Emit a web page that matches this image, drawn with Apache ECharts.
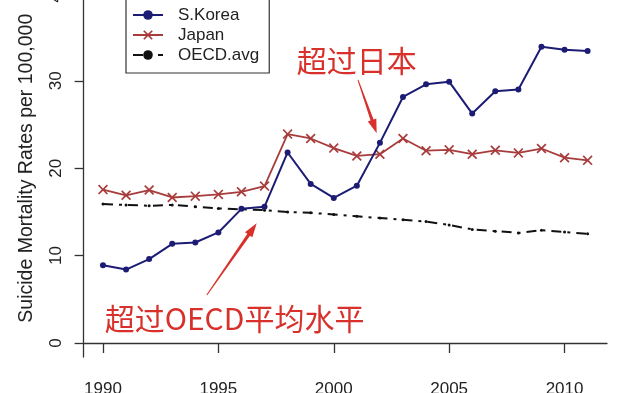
<!DOCTYPE html>
<html><head><meta charset="utf-8">
<script src="https://cdn.jsdelivr.net/npm/echarts@6/dist/echarts.min.js"></script>
<style>html,body{margin:0;padding:0;background:#fff}#c{width:640px;height:393px}</style>
</head><body><div id="c"></div>
<script>
const years = [1990,1991,1992,1993,1994,1995,1996,1997,1998,1999,2000,2001,2002,2003,2004,2005,2006,2007,2008,2009,2010,2011];
const korea = [8.9,8.4,9.6,11.35,11.5,12.65,15.35,15.6,21.8,18.2,16.6,18.0,22.9,28.15,29.6,29.9,26.25,28.8,29.0,33.9,33.55,33.4];
const japan = [17.55,16.9,17.5,16.65,16.8,17.0,17.3,17.95,23.9,23.4,22.3,21.4,21.6,23.4,22.0,22.1,21.6,22.05,21.75,22.25,21.2,20.9];
const oecd  = [15.9,15.8,15.7,15.8,15.6,15.4,15.3,15.2,15.0,14.9,14.7,14.5,14.3,14.1,13.9,13.5,13.0,12.8,12.6,12.9,12.7,12.5];
const seriesNames = ['S.Korea','Japan','OECD.avg'];
const xTicks = [1990,1995,2000,2005,2010];
const yTicks = [0,10,20,30,40];
const yAxisTitle = 'Suicide Mortality Rates per 100,000';
const annotTexts = ['超过日本','超过OECD平均水平'];
// annotation anchors in data units: [textYear, textValue, tailYear, tailValue, tipYear, tipValue]
const annotAnchors = [
  [2001.0, 32.3, 2001.05, 30.1, 2001.86, 24.0],
  [1995.7, 2.75, 1994.5, 5.5, 1996.66, 13.7]
];

const pair = (a) => years.map((y,i)=>[y,a[i]]);
const chart = echarts.init(document.getElementById('c'), null, {renderer:'canvas'});
const FONT = 'Liberation Sans, Arial, sans-serif';
const RED = '#d8312b';
const xPath = 'path://M0,1.2 L1.2,0 L5,3.8 L8.8,0 L10,1.2 L6.2,5 L10,8.8 L8.8,10 L5,6.2 L1.2,10 L0,8.8 L3.8,5 Z';

const option = {
  animation:false,
  backgroundColor:'#fff',
  grid:{left:83.6, right:33, top:-20.6, bottom:36, containLabel:false, outerBoundsMode:'none'},
  xAxis:{type:'value', min:1989.16, max:2011.84,
    splitLine:{show:false},
    axisLine:{lineStyle:{color:'#333', width:1.3}},
    axisTick:{customValues:xTicks, length:10, lineStyle:{color:'#333', width:1.3}},
    axisLabel:{customValues:xTicks, fontSize:17, fontFamily:FONT, color:'#222', margin:24, formatter:v=>String(v)}
  },
  yAxis:{type:'value', min:-1.6, max:41.6,
    splitLine:{show:false},
    axisLine:{show:true, lineStyle:{color:'#333', width:1.3}},
    axisTick:{show:true, customValues:yTicks, length:9, lineStyle:{color:'#333', width:1.3}},
    axisLabel:{customValues:yTicks, rotate:90, fontSize:17, fontFamily:FONT, color:'#222', margin:19, formatter:v=>String(v)},
    name:yAxisTitle, nameLocation:'middle', nameGap:47,
    nameTextStyle:{fontSize:19.5, fontFamily:FONT, color:'#222'}
  },
  legend:{orient:'vertical', left:126, top:-3.5, itemWidth:30, itemHeight:12, itemGap:3,
    padding:[10,10,9.5,6], borderColor:'#333', borderWidth:1.2, backgroundColor:'#fff',
    textStyle:{fontSize:17, fontFamily:FONT, color:'#222', padding:[0,0,0,10]},
    data:seriesNames},
  series:[
    {name:seriesNames[0], type:'line', data:pair(korea), symbol:'circle', symbolSize:6,
      lineStyle:{color:'#1c1c74', width:2}, itemStyle:{color:'#1c1c74'}, z:3},
    {name:seriesNames[1], type:'line', data:pair(japan), symbol:xPath, symbolSize:10,
      lineStyle:{color:'#a83c3c', width:1.8}, itemStyle:{color:'#a83c3c'}, z:2},
    {name:seriesNames[2], type:'line', data:pair(oecd), symbol:'circle', symbolSize:3,
      lineStyle:{color:'#111', width:2, type:[10,6,3,6]}, itemStyle:{color:'#111'}, z:1}
  ]
};
chart.setOption(option);

function arrow(t, p, headLen, headW){
  const dx=p[0]-t[0], dy=p[1]-t[1], L=Math.hypot(dx,dy);
  const ux=dx/L, uy=dy/L, nx=-uy, ny=ux;
  const b=[p[0]-ux*headLen, p[1]-uy*headLen];
  const pts=[
    [t[0]+nx*0.5,t[1]+ny*0.5],[b[0]+nx*1.6,b[1]+ny*1.6],[b[0]+nx*headW/2,b[1]+ny*headW/2],
    p,[b[0]-nx*headW/2,b[1]-ny*headW/2],[b[0]-nx*1.6,b[1]-ny*1.6],[t[0]-nx*0.5,t[1]-ny*0.5]];
  return {type:'polygon', shape:{points:pts}, style:{fill:RED}, z:100};
}
const gfx=[];
annotAnchors.forEach((a,i)=>{
  const tp=chart.convertToPixel({gridIndex:0},[a[0],a[1]]);
  const tl=chart.convertToPixel({gridIndex:0},[a[2],a[3]]);
  const tip=chart.convertToPixel({gridIndex:0},[a[4],a[5]]);
  gfx.push({type:'text', x:tp[0], y:tp[1], z:100, style:{text:annotTexts[i], fill:RED,
    font:'30px "Noto Sans CJK SC", sans-serif', align:'center', verticalAlign:'middle'}});
  gfx.push(arrow(tl, tip, 14, 9));
});
chart.setOption({graphic:gfx});
</script></body></html>
